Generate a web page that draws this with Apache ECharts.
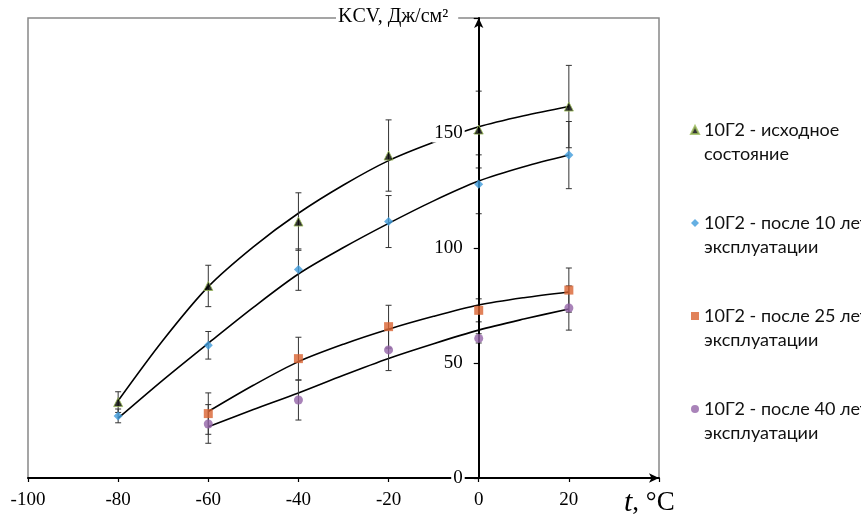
<!DOCTYPE html>
<html><head><meta charset="utf-8">
<script src="https://cdn.jsdelivr.net/npm/echarts@6/dist/echarts.min.js"></script>
<style>html,body{margin:0;padding:0;background:#fff}#c{width:861px;height:523px}</style>
</head><body><div id="c"></div>
<script>
const temps = [-80, -60, -40, -20, 0, 20];
const temps34 = [-60, -40, -20, 0, 20];
const names = ['10Г2 - исходное\nсостояние', '10Г2 - после 10 лет\nэксплуатации', '10Г2 - после 25 лет\nэксплуатации', '10Г2 - после 40 лет\nэксплуатации'];
const s1 = [33, 83.5, 111.5, 140.2, 151.5, 161.5];
const s1err = [4.5, 9, 12.5, 15.5, 16.7, 17.9];
const s2 = [27, 57.7, 90.6, 111.5, 127.7, 140.4];
const s2err = [3, 6, 9, 11.3, 12.8, 14.6];
const s3 = [28, 51.9, 65.8, 72.9, 81.7];
const s3err = [9, 9.3, 9.3, 5, 9.6];
const s4 = [23.5, 33.9, 55.7, 60.7, 73.9];
const s4err = [8.4, 8.7, 9, 2, 9.6];
// trend curves
const trendX12 = [-80, -70, -60, -50, -40, -30, -20, -10, 0, 10, 20];
const trend1 = [33.6, 60, 83.2, 100.5, 115.1, 127.4, 138, 146, 152.7, 157.5, 161.5];
const trend2 = [26, 42.7, 58.6, 74.2, 88.7, 100.2, 110.7, 120.5, 129.1, 135.3, 140.4];
const trendX34 = [-60, -50, -40, -30, -20, -10, 0, 10, 20];
const trend3 = [28.9, 40.3, 50.6, 58.2, 64.7, 70.3, 75.2, 78.4, 80.9];
const trend4 = [22.3, 29.8, 37, 44.7, 52, 58.4, 64.3, 69.1, 73.5];
const yTickLabels = [0, 50, 100, 150];
const xTickLabels = [-100, -80, -60, -40, -20, 0, 20];

const serif = 'Liberation Serif';
const pair = (xs, ys) => xs.map((x, i) => [x, ys[i]]);

const W = 861, H = 523;
const gridLeft = 28, gridRight = 202, gridTop = 18, gridBottom = 45;
const xMin = -100, xMax = 40;
const yAxisOffset = -(W - gridLeft - gridRight) * (0 - xMin) / (xMax - xMin);

function errSeries(xs, ys, es) {
  return {
    type: 'custom', z: 3, silent: true,
    data: xs.map((x, i) => [x, ys[i] - es[i], ys[i] + es[i]]),
    encode: { x: 0, y: [1, 2] },
    renderItem(params, api) {
      const lo = api.coord([api.value(0), api.value(1)]);
      const hi = api.coord([api.value(0), api.value(2)]);
      const w = 3;
      const st = { stroke: '#333', lineWidth: 1 };
      return {
        type: 'group', children: [
          { type: 'line', shape: { x1: lo[0], y1: lo[1], x2: hi[0], y2: hi[1] }, style: st },
          { type: 'line', shape: { x1: lo[0] - w, y1: lo[1], x2: lo[0] + w, y2: lo[1] }, style: st },
          { type: 'line', shape: { x1: hi[0] - w, y1: hi[1], x2: hi[0] + w, y2: hi[1] }, style: st }
        ]
      };
    }
  };
}
function trendSeries(xs, ys) {
  return { type: 'line', z: 2, silent: true, smooth: 0.3, showSymbol: false, symbol: 'none',
    data: pair(xs, ys), lineStyle: { color: '#000', width: 1.6 } };
}

const chart = echarts.init(document.getElementById('c'));
chart.setOption({
  animation: false,
  backgroundColor: '#fff',
  grid: { left: gridLeft, top: gridTop, right: gridRight, bottom: gridBottom, outerBoundsMode: 'none', containLabel: false,
    show: true, borderColor: '#888', borderWidth: 1.5, backgroundColor: 'transparent' },
  xAxis: {
    type: 'value', min: xMin, max: xMax, interval: 20,
    axisLine: { onZero: true, lineStyle: { color: '#000', width: 2 }, symbol: ['none', 'arrow'], symbolSize: [7, 10] },
    axisTick: { show: true, length: 4, lineStyle: { color: '#000', width: 1.2 } },
    splitLine: { show: false },
    axisLabel: { margin: 13, fontFamily: serif, fontSize: 19, color: '#000', hideOverlap: false,
      formatter: v => xTickLabels.indexOf(v) >= 0 ? String(v) : '' }
  },
  yAxis: {
    type: 'value', min: 0, max: 200, interval: 50, z: 5, position: 'left', offset: yAxisOffset,
    axisLine: { onZero: false, lineStyle: { color: '#000', width: 2 }, symbol: ['none', 'arrow'], symbolSize: [7, 10] },
    axisTick: { show: true, length: 5, lineStyle: { color: '#000', width: 1.2 } },
    splitLine: { show: false },
    axisLabel: { margin: 14, fontFamily: serif, fontSize: 19, color: '#000', backgroundColor: '#fff', padding: [0, 2], hideOverlap: false,
      formatter: v => yTickLabels.indexOf(v) >= 0 ? String(v) : '' }
  },
  legend: {
    orient: 'vertical', left: 685, top: 89, itemGap: 21, itemWidth: 8, itemHeight: 8,
    data: names,
    formatter: n => '\n' + n,
    textStyle: { fontFamily: 'Lato', fontSize: 18, color: '#111', lineHeight: 24 }
  },
  graphic: [
    { type: 'text', left: 336, top: 5, z: 100,
      style: { text: 'KCV, Дж/см²', font: '20px "Liberation Serif"', fill: '#000', backgroundColor: '#fff', padding: [2, 10, 2, 2] } },
    { type: 'text', left: 624, top: 488, z: 100,
      style: { text: '{i|t}{n|, °C}', rich: {
        i: { fontFamily: serif, fontStyle: 'italic', fontSize: 30, fill: '#000' },
        n: { fontFamily: serif, fontSize: 27, fill: '#000' } } } }
  ],
  series: [
    trendSeries(trendX12, trend1), trendSeries(trendX12, trend2), trendSeries(trendX34, trend3), trendSeries(trendX34, trend4),
    errSeries(temps, s1, s1err), errSeries(temps, s2, s2err), errSeries(temps34, s3, s3err), errSeries(temps34, s4, s4err),
    { name: names[0], type: 'scatter', z: 10, symbol: 'triangle', symbolSize: 9, data: pair(temps, s1),
      itemStyle: { color: '#000', borderColor: '#9BBB59', borderWidth: 1 } },
    { name: names[1], type: 'scatter', z: 10, symbol: 'diamond', symbolSize: 9, data: pair(temps, s2),
      itemStyle: { color: '#3E9BDB' } },
    { name: names[2], type: 'scatter', z: 10, symbol: 'rect', symbolSize: 9, data: pair(temps34, s3),
      itemStyle: { color: '#DA6331' } },
    { name: names[3], type: 'scatter', z: 10, symbol: 'circle', symbolSize: 9, data: pair(temps34, s4),
      itemStyle: { color: '#9464A8' } }
  ]
});
</script></body></html>
